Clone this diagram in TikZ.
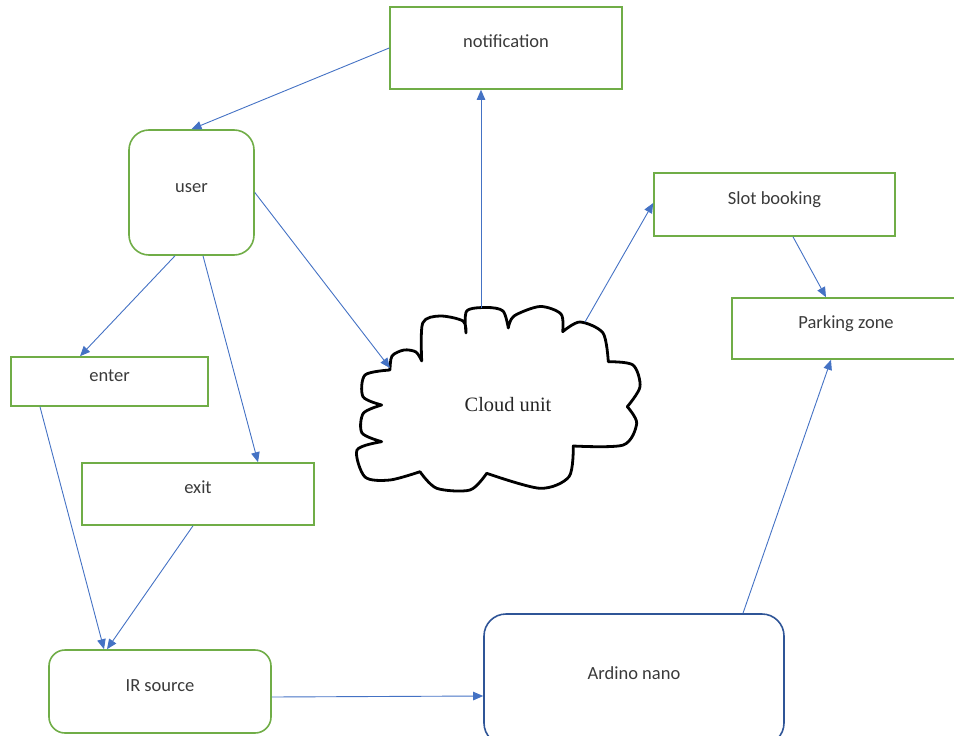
\documentclass[tikz,border=0pt]{standalone}
\usepackage{fontspec}
\setmainfont{Carlito}
\newfontfamily\cloudfont{Liberation Serif}
\usetikzlibrary{arrows.meta}
\definecolor{boxgreen}{HTML}{70AD47}
\definecolor{arrowblue}{HTML}{4472C4}
\definecolor{nanoblue}{HTML}{2F5597}
\definecolor{textgray}{HTML}{3A3A3A}

\begin{document}
\begin{tikzpicture}[x=1pt, y=-1pt,
  box/.style={draw=boxgreen, line width=1.6pt, inner sep=0pt, text=textgray,
    font=\fontsize{18.5}{22}\selectfont, text height=12pt, text depth=12.8pt},
  flow/.style={draw=arrowblue, line width=0.9pt, -{Triangle[length=10pt,width=8.5pt]}}]
\useasboundingbox (0,0) rectangle (954,736);
\clip (0,0) rectangle (954,736);
\node[box, minimum width=232pt, minimum height=82pt] (notif) at (506,48) {notification};
\node[box, rounded corners=20pt, minimum width=125pt, minimum height=125pt] (user) at (191.5,192.5) {user};
\node[box, minimum width=241pt, minimum height=63pt] (slot) at (774.5,204.5) {Slot booking};
\node[box, minimum width=228pt, minimum height=61pt] (park) at (846,328.5) {Parking zone};
\node[box, minimum width=197pt, minimum height=49pt] (enter) at (109.5,381.5) {enter};
\node[box, minimum width=232pt, minimum height=62pt] (exit) at (198,494) {exit};
\node[box, rounded corners=16pt, minimum width=222pt, minimum height=83pt] (ir) at (160,691.5) {IR source};
\node[box, draw=nanoblue, rounded corners=22pt, minimum width=300pt, minimum height=131pt] (ard) at (634,679.5) {Ardino nano};
\draw[line width=2.8pt, line join=round, line cap=round] (390,370)
  -- plot[smooth] coordinates {(390,370) (392,356) (404,350) (416,352) (421.7,361)}
  -- plot[smooth] coordinates {(421.7,361) (422.7,323) (440,316) (463,321) (466,333)}
  -- plot[smooth] coordinates {(466,333) (466.7,311) (487,307.5) (503,311) (508.3,328)}
  -- plot[smooth] coordinates {(508.3,328) (514,316) (540,306.5) (561,314) (562.7,331.7)}
  -- plot[smooth] coordinates {(562.7,331.7) (580,322) (603,333) (608.3,361.7)}
  -- plot[smooth] coordinates {(608.3,361.7) (633,365) (640,386.7) (627.3,406.7)}
  -- plot[smooth] coordinates {(627.3,406.7) (636.7,423.3) (623.3,445) (573.3,446)}
  -- plot[smooth] coordinates {(573.3,446) (569,476.7) (540,488.3) (486.7,473.3)}
  -- plot[smooth] coordinates {(486.7,473.3) (470,490) (436.7,488.3) (420,471.7)}
  -- plot[smooth] coordinates {(420,471.7) (390,480) (365,477) (357,450) (381.7,441.7)}
  -- plot[smooth] coordinates {(381.7,441.7) (362,433) (363.3,413.3) (381.7,405)}
  -- plot[smooth] coordinates {(381.7,405) (363,396.7) (365,375) (390,370)} -- cycle;
\node[font=\cloudfont\fontsize{20.4}{24}\selectfont, text=black!85] (cloud) at (508,405) {Cloud unit};
\coordinate (cloud-w) at (390,368);
\coordinate (cloud-n) at (481,308);
\coordinate (cloud-ne) at (585,322);
\draw[flow] (notif.west) -- (user.north);
\draw[flow] (user.east) -- (cloud-w);
\draw[flow] ([xshift=-16.5pt]user.south) -- ([xshift=-29.5pt]enter.north);
\draw[flow] ([xshift=11.5pt]user.south) -- ([xshift=60pt]exit.north);
\draw[flow] ([xshift=-69.5pt]enter.south) -- ([xshift=-56pt]ir.north);
\draw[flow] ([xshift=-5pt]exit.south) -- ([xshift=-53pt]ir.north);
\draw[flow] (cloud-n) -- ([xshift=-25pt]notif.south);
\draw[flow] (cloud-ne) -- ([yshift=1.5pt]slot.west);
\draw[flow] ([xshift=18.5pt]slot.south) -- ([xshift=-20pt]park.north);
\draw[flow] ([xshift=109pt]ard.north) -- ([xshift=-15pt]park.south);
\draw[flow] ([yshift=-5.5pt]ir.east) -- ([yshift=-16.5pt]ard.west);
\end{tikzpicture}
\end{document}
